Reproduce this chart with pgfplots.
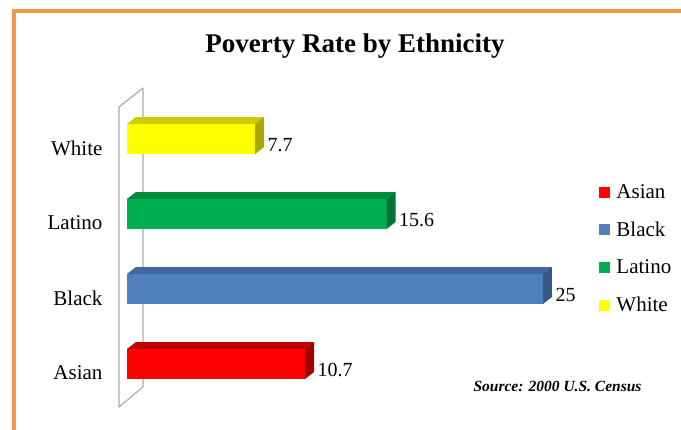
\documentclass[border=0pt]{standalone}
\usepackage{pgfplots}
\pgfplotsset{compat=1.18}
\usepackage{fontspec}
\setmainfont{Liberation Serif}
\definecolor{borderor}{HTML}{F79646}
\definecolor{asianF}{HTML}{FF0000}
\definecolor{asianT}{HTML}{C00000}
\definecolor{asianS}{HTML}{A50000}
\definecolor{blackF}{HTML}{4F81BD}
\definecolor{blackT}{HTML}{41699B}
\definecolor{blackS}{HTML}{335A86}
\definecolor{latinoF}{HTML}{00B050}
\definecolor{latinoT}{HTML}{008C3F}
\definecolor{latinoS}{HTML}{007535}
\definecolor{whiteF}{HTML}{FFFF00}
\definecolor{whiteT}{HTML}{CCCC00}
\definecolor{whiteS}{HTML}{A8A800}
\begin{document}
\begin{tikzpicture}
\path[use as bounding box] (0pt,0pt) rectangle (681pt,430pt);
\fill[white] (0pt,0pt) rectangle (681pt,430pt);
\draw[borderor, line width=4pt] (14pt,0pt) -- (14pt,419pt) -- (681pt,419pt);
\draw[gray!65, line width=1.2pt, line join=round] (119pt,23pt) -- (119pt,323pt) -- (143pt,342pt) -- (143pt,43pt) -- cycle;
\node[anchor=base, font=\bfseries\fontsize{27}{30}\selectfont] at (355pt,377pt) {Poverty Rate by Ethnicity};
\node[anchor=base west, font=\bfseries\itshape\fontsize{15.5}{18}\selectfont] at (470pt,38pt) {Source: 2000 U.S. Census};
\begin{axis}[
  at={(127pt,28.5pt)}, anchor=south west,
  x=16.64pt, y=75pt,
  xmin=0, xmax=28, ymin=-0.5, ymax=3.5,
  clip=false,
  axis line style={draw=none},
  xtick=\empty,
  ytick={0,1,2,3},
  yticklabels={Asian,Black,Latino,White},
  major tick length=0pt,
  tick style={draw=none},
  yticklabel style={font=\fontsize{21}{24}\selectfont, xshift=-21pt, yshift=-9pt},
  bar width=30pt,
  legend style={draw=none, fill=none, at={(axis cs:28.2,2.45)}, anchor=north west,
    font=\fontsize{21}{24}\selectfont, row sep=18pt},
  legend cell align=left,
  legend image code/.code={\fill[#1] (0pt,-5.5pt) rectangle (11pt,5.5pt); \path (15pt,0pt);},
  barval/.style={xbar, bar shift=0pt, draw=none, point meta=x,
    nodes near coords={\pgfmathprintnumber[assume math mode=true]{\pgfplotspointmeta}},
    every node near coord/.append style={anchor=west, xshift=9pt, yshift=-6pt,
      font=\fontsize{20}{24}\selectfont, text=black}},
]
% front faces (data)
\addplot[barval, fill=asianF] coordinates {(10.7,0)};
\addlegendentry{Asian}
\addplot[barval, fill=blackF] coordinates {(25,1)};
\addlegendentry{Black}
\addplot[barval, fill=latinoF] coordinates {(15.6,2)};
\addlegendentry{Latino}
\addplot[barval, fill=whiteF] coordinates {(7.7,3)};
\addlegendentry{White}
% 3D top and side faces
\addplot[fill=asianT, draw=none, forget plot] coordinates {(0,0.2) (0.54,0.293) (11.24,0.293) (10.7,0.2)} -- cycle;
\addplot[fill=asianS, draw=none, forget plot] coordinates {(10.7,-0.2) (10.7,0.2) (11.24,0.293) (11.24,-0.107)} -- cycle;
\addplot[fill=blackT, draw=none, forget plot] coordinates {(0,1.2) (0.54,1.293) (25.54,1.293) (25,1.2)} -- cycle;
\addplot[fill=blackS, draw=none, forget plot] coordinates {(25,0.8) (25,1.2) (25.54,1.293) (25.54,0.893)} -- cycle;
\addplot[fill=latinoT, draw=none, forget plot] coordinates {(0,2.2) (0.54,2.293) (16.14,2.293) (15.6,2.2)} -- cycle;
\addplot[fill=latinoS, draw=none, forget plot] coordinates {(15.6,1.8) (15.6,2.2) (16.14,2.293) (16.14,1.893)} -- cycle;
\addplot[fill=whiteT, draw=none, forget plot] coordinates {(0,3.2) (0.54,3.293) (8.24,3.293) (7.7,3.2)} -- cycle;
\addplot[fill=whiteS, draw=none, forget plot] coordinates {(7.7,2.8) (7.7,3.2) (8.24,3.293) (8.24,2.893)} -- cycle;
\end{axis}
\end{tikzpicture}
\end{document}
